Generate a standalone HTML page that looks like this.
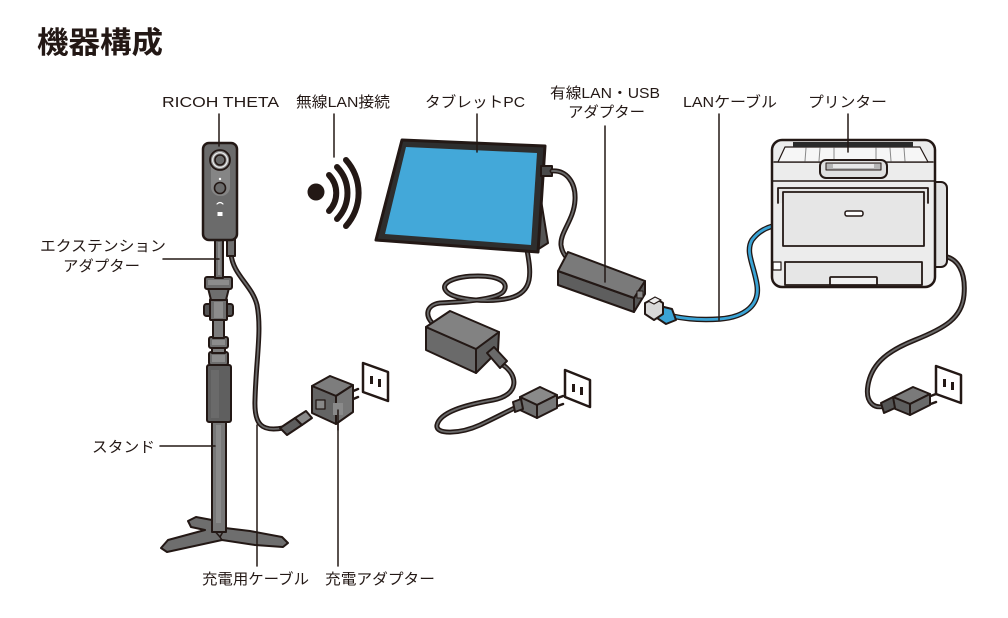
<!DOCTYPE html>
<html><head><meta charset="utf-8"><style>
html,body{margin:0;padding:0;background:#fff;}
svg{display:block;}
text{font-family:"Liberation Sans","Noto Sans CJK JP",sans-serif;fill:#231815;}
</style></head><body>
<svg width="1008" height="618" viewBox="0 0 1008 618" xmlns="http://www.w3.org/2000/svg">
<g stroke-linejoin="round" stroke-linecap="round">

<!-- Title -->
<text x="37" y="53" font-size="30" font-weight="bold" textLength="126" lengthAdjust="spacingAndGlyphs" style="font-family:'Noto Sans CJK JP',sans-serif">機器構成</text>

<!-- Labels -->
<g font-size="15">
<text x="162" y="107" textLength="117" lengthAdjust="spacingAndGlyphs">RICOH THETA</text>
<text x="296" y="107" textLength="94" lengthAdjust="spacingAndGlyphs">無線LAN接続</text>
<text x="425" y="107" textLength="100" lengthAdjust="spacingAndGlyphs">タブレットPC</text>
<text x="550" y="98" textLength="110" lengthAdjust="spacingAndGlyphs">有線LAN・USB</text>
<text x="568" y="117" textLength="77" lengthAdjust="spacingAndGlyphs">アダプター</text>
<text x="683" y="107" textLength="94" lengthAdjust="spacingAndGlyphs">LANケーブル</text>
<text x="808" y="107" textLength="79" lengthAdjust="spacingAndGlyphs">プリンター</text>
<text x="40" y="251" textLength="126" lengthAdjust="spacingAndGlyphs">エクステンション</text>
<text x="63" y="271" textLength="77" lengthAdjust="spacingAndGlyphs">アダプター</text>
<text x="92" y="452" textLength="63" lengthAdjust="spacingAndGlyphs">スタンド</text>
<text x="202" y="584" textLength="107" lengthAdjust="spacingAndGlyphs">充電用ケーブル</text>
<text x="325" y="584" textLength="110" lengthAdjust="spacingAndGlyphs">充電アダプター</text>
</g>

<!-- ===== Stand ===== -->
<g stroke="#231815" stroke-width="2" fill="#6e6e6e">
  <polygon points="212,520 196,517 188,521 191,527 205,530 168,540 161,548 167,552 222,540 255,545 283,547 288,543 282,537 250,531 225,528 225,520"/>
  <polyline points="212,528 220,537 225,528" fill="none" stroke-width="1.5"/>
  <line x1="220" y1="537" x2="222" y2="540" stroke-width="1.5"/>
  <rect x="212" y="420" width="14" height="112" fill="#777"/>
  <rect x="207" y="365" width="24" height="57" rx="2" fill="#5f5f5f"/>
  <rect x="209" y="352" width="19" height="13" rx="2"/>
  <rect x="212" y="347" width="13" height="6" fill="#7c7c7c"/>
  <rect x="209" y="337" width="19" height="11" rx="2"/>
  <rect x="213" y="319" width="11" height="19" fill="#7c7c7c"/>
  <rect x="204" y="304" width="7" height="12" rx="2.5" fill="#555"/>
  <rect x="226" y="304" width="7" height="12" rx="2.5" fill="#555"/>
  <rect x="210" y="299" width="17" height="21" rx="1"/>
  <polygon points="208,288 229,288 226,300 211,300"/>
  <rect x="205" y="277" width="27" height="12" rx="2"/>
  <rect x="215" y="238" width="8" height="40"/>
</g>
<g fill="#8c8c8c">
  <rect x="208" y="280" width="21" height="5"/>
  <rect x="214" y="302" width="9" height="16"/>
  <rect x="212" y="340" width="13" height="5"/>
  <rect x="212" y="355" width="13" height="7"/>
  <rect x="211" y="370" width="8" height="48" fill="#6a6a6a"/>
  <rect x="216" y="425" width="5" height="98" fill="#8a8a8a"/>
  <rect x="218" y="242" width="2.5" height="33"/>
</g>

<!-- camera cable -->
<path d="M231 254 C233 275 252 285 257 305 C262 330 256 360 255 400 C254 425 262 432 283 428" fill="none" stroke="#231815" stroke-width="5"/>
<path d="M231 254 C233 275 252 285 257 305 C262 330 256 360 255 400 C254 425 262 432 283 428" fill="none" stroke="#6a6a6a" stroke-width="1.8"/>
<g stroke="#231815" stroke-width="2">
  <polygon points="280,428 295,418 302,425 287,435" fill="#5e5e5e"/>
  <polygon points="295,418 306,411 312,418 302,425" fill="#8a8a8a"/>
</g>
<rect x="227" y="238" width="8" height="18" fill="#6e6e6e" stroke="#231815" stroke-width="2"/>

<!-- ===== Camera ===== -->
<rect x="203" y="143" width="34" height="97" rx="6" fill="#6b6b6b" stroke="#231815" stroke-width="2.5"/>
<rect x="211" y="150" width="19" height="46" rx="9" fill="#858585"/>
<circle cx="220" cy="160" r="10" fill="#8a8a8a" stroke="#231815" stroke-width="1.8"/>
<circle cx="220" cy="160" r="7.3" fill="none" stroke="#eee" stroke-width="1.2"/>
<circle cx="220" cy="160" r="5" fill="#6a6a6a" stroke="#231815" stroke-width="1.5"/>
<circle cx="220" cy="179" r="1.2" fill="#fff"/>
<circle cx="220" cy="188" r="5.5" fill="#6b6b6b" stroke="#231815" stroke-width="1.6"/>
<path d="M217 204 Q220 201 223 204" fill="none" stroke="#fff" stroke-width="1.2"/>
<rect x="217.5" y="212" width="5" height="4" fill="#fff"/>
<line x1="219" y1="114" x2="219" y2="146" stroke="#231815" stroke-width="1.5"/>

<!-- ===== Wireless ===== -->
<circle cx="316" cy="192" r="8.5" fill="#231815"/>
<g fill="none" stroke="#231815" stroke-width="6" stroke-linecap="round">
  <path d="M329 175 A26 26 0 0 1 329 211"/>
  <path d="M337 167 A37.5 37.5 0 0 1 337 219"/>
  <path d="M346 160 A49.5 49.5 0 0 1 346 226"/>
</g>
<line x1="334" y1="114" x2="334" y2="157" stroke="#231815" stroke-width="1.5"/>

<!-- leaders left -->
<g stroke="#231815" stroke-width="1.5">
<line x1="163" y1="259" x2="219" y2="259"/>
<line x1="160" y1="446" x2="215" y2="446"/>
<line x1="257" y1="425" x2="257" y2="566"/>
<line x1="338" y1="410" x2="338" y2="566"/>
</g>

<!-- ===== Charger cube ===== -->
<g stroke="#231815" stroke-width="2">
  <line x1="351" y1="392" x2="358" y2="389" stroke-width="2.5"/>
  <line x1="351" y1="400" x2="358" y2="397" stroke-width="2.5"/>
  <polygon points="312,386 330,376 353,385 336,396" fill="#7d7d7d"/>
  <polygon points="312,386 336,396 336,424 312,413" fill="#646464"/>
  <polygon points="336,396 353,385 353,412 336,424" fill="#777"/>
  <rect x="316" y="400" width="9" height="9" fill="#888" stroke-width="1.3"/>
</g>
<rect x="333" y="403" width="10" height="12" fill="#8a8a8a"/>
<line x1="338" y1="410" x2="338" y2="430" stroke="#231815" stroke-width="1.5"/>
<g stroke="#231815">
  <polygon points="363,363 388,372 388,401 363,392" fill="#fff" stroke-width="2.5"/>
  <rect x="370" y="376" width="3" height="8" fill="#231815" stroke="none"/>
  <rect x="378" y="379" width="3" height="8" fill="#231815" stroke="none"/>
</g>

<!-- ===== Tablet ===== -->
<polygon points="532,205 541,200 548,243 537,250 529,250" fill="#555" stroke="#231815" stroke-width="2"/>
<path d="M527 250 C531 272 534 292 510 298 C490 303 455 300 447 292 C438 283 455 276 478 276 C500 276 510 283 503 292 C495 300 460 302 440 303 C425 305 424 318 436 326" fill="none" stroke="#231815" stroke-width="5"/>
<path d="M527 250 C531 272 534 292 510 298 C490 303 455 300 447 292 C438 283 455 276 478 276 C500 276 510 283 503 292 C495 300 460 302 440 303 C425 305 424 318 436 326" fill="none" stroke="#6a6a6a" stroke-width="1.8"/>
<polygon points="402,140 545,146 538,252 376,240" fill="#2e2e2e" stroke="#231815" stroke-width="3"/>
<polygon points="406,147 537,153 531,245 385,234" fill="#43a8d9"/>
<line x1="477" y1="114" x2="477" y2="152" stroke="#231815" stroke-width="1.5"/>
<rect x="541" y="166" width="11" height="10" fill="#4a4a4a" stroke="#231815" stroke-width="2"/>
<path d="M552 171 C566 170 576 182 575 200 C574 220 560 232 561 245 C562 253 566 258 572 262" fill="none" stroke="#231815" stroke-width="5"/>
<path d="M552 171 C566 170 576 182 575 200 C574 220 560 232 561 245 C562 253 566 258 572 262" fill="none" stroke="#6a6a6a" stroke-width="1.8"/>

<!-- ===== LAN/USB Adapter ===== -->
<g stroke="#231815" stroke-width="2">
  <polygon points="558,271 634,298 634,312 558,285" fill="#5e5e5e"/>
  <polygon points="634,298 645,281 645,294 634,312" fill="#555"/>
  <polygon points="568,252 645,281 634,298 558,271" fill="#7a7a7a"/>
  <rect x="637" y="291" width="6" height="7" fill="#888" stroke-width="1"/>
</g>
<line x1="605" y1="126" x2="605" y2="282" stroke="#231815" stroke-width="1.5"/>

<!-- ===== LAN cable ===== -->
<path d="M672 316 C690 320 705 320 720 319 C745 317 760 305 757 285 C754 265 745 252 752 240 C758 232 765 228 773 226" fill="none" stroke="#231815" stroke-width="5.5"/>
<path d="M672 316 C690 320 705 320 720 319 C745 317 760 305 757 285 C754 265 745 252 752 240 C758 232 765 228 773 226" fill="none" stroke="#3aa4d6" stroke-width="2.8"/>
<line x1="719" y1="114" x2="719" y2="320" stroke="#231815" stroke-width="1.5"/>
<g stroke="#231815" stroke-width="2">
  <polygon points="660,306 672,309 676,320 666,324 657,318" fill="#3aa4d6"/>
  <polygon points="645,303 655,298 663,303 663,314 654,320 645,314" fill="#d8d8d8"/>
  <polygon points="648,301 655,297 661,300 654,304" fill="#eee" stroke-width="1.2"/>
</g>

<!-- ===== Tablet power brick ===== -->
<g stroke="#231815" stroke-width="2">
  <polygon points="426,327 476,349 476,373 426,350" fill="#6a6a6a"/>
  <polygon points="476,349 499,332 498,351 476,373" fill="#5c5c5c"/>
  <polygon points="426,327 450,311 499,332 476,349" fill="#828282"/>
</g>
<path d="M503 365 C518 375 520 395 493 400 C465 405 440 412 437 425 C435 435 460 434 480 425 C495 418 510 410 523 404" fill="none" stroke="#231815" stroke-width="5"/>
<path d="M503 365 C518 375 520 395 493 400 C465 405 440 412 437 425 C435 435 460 434 480 425 C495 418 510 410 523 404" fill="none" stroke="#6a6a6a" stroke-width="1.8"/>
<polygon points="487,353 494,347 507,361 500,368" fill="#6a6a6a" stroke="#231815" stroke-width="2"/>
<g stroke="#231815" stroke-width="2">
  <line x1="555" y1="399" x2="563" y2="396" stroke-width="2.5"/>
  <line x1="555" y1="407" x2="563" y2="404" stroke-width="2.5"/>
  <polygon points="520,397 540,387 557,395 537,405" fill="#8a8a8a"/>
  <polygon points="520,397 537,405 537,418 520,410" fill="#6e6e6e"/>
  <polygon points="537,405 557,395 557,408 537,418" fill="#777"/>
  <polygon points="513,402 521,399 523,409 515,412" fill="#6a6a6a"/>
</g>
<g stroke="#231815">
  <polygon points="565,370 590,380 590,407 565,397" fill="#fff" stroke-width="2.5"/>
  <rect x="572" y="384" width="3" height="8" fill="#231815" stroke="none"/>
  <rect x="580" y="387" width="3" height="8" fill="#231815" stroke="none"/>
</g>

<!-- ===== Printer ===== -->
<path d="M943 256 C958 258 966 272 964 295 C962 318 945 328 915 340 C890 350 872 362 868 385 C865 402 874 412 890 404" fill="none" stroke="#231815" stroke-width="5"/>
<path d="M943 256 C958 258 966 272 964 295 C962 318 945 328 915 340 C890 350 872 362 868 385 C865 402 874 412 890 404" fill="none" stroke="#6a6a6a" stroke-width="1.8"/>
<rect x="929" y="182" width="18" height="85" rx="6" fill="#e2e2e2" stroke="#231815" stroke-width="2"/>
<rect x="772" y="140" width="163" height="147" rx="10" fill="#ececec" stroke="#231815" stroke-width="2.5"/>
<path d="M774 162 L933 162" stroke="#231815" stroke-width="1.5"/>
<path d="M785 147 L920 147 L928 162 L778 162 Z" fill="#f6f6f6" stroke="#231815" stroke-width="1.2"/>
<rect x="793" y="142" width="120" height="5" fill="#2a2a2a"/>
<g stroke="#888" stroke-width="1">
<line x1="806" y1="148" x2="805" y2="161"/><line x1="820" y1="148" x2="819" y2="161"/>
<line x1="834" y1="148" x2="834" y2="161"/><line x1="876" y1="148" x2="876" y2="161"/>
<line x1="890" y1="148" x2="891" y2="161"/><line x1="904" y1="148" x2="905" y2="161"/>
</g>
<line x1="773" y1="181" x2="934" y2="181" stroke="#231815" stroke-width="1.5"/>
<rect x="820" y="160" width="67" height="18" rx="6" fill="#e0e0e0" stroke="#231815" stroke-width="2"/>
<rect x="826" y="163" width="55" height="7" fill="#b5b5b5" stroke="#231815" stroke-width="1"/>
<rect x="833" y="164" width="41" height="4" fill="#e8e8e8"/>
<line x1="848" y1="114" x2="848" y2="152" stroke="#231815" stroke-width="1.5"/>
<path d="M778 203 L778 188 L928 188 L928 203" fill="#e6e6e6" stroke="#231815" stroke-width="1.8"/>
<rect x="783" y="192" width="141" height="54" fill="#e6e6e6" stroke="#231815" stroke-width="1.8"/>
<rect x="845" y="211" width="18" height="5" rx="2" fill="#fff" stroke="#231815" stroke-width="1.5"/>
<rect x="785" y="262" width="137" height="23" fill="#e6e6e6" stroke="#231815" stroke-width="1.8"/>
<rect x="830" y="277" width="47" height="8" rx="1" fill="#f0f0f0" stroke="#231815" stroke-width="1.8"/>
<rect x="773" y="262" width="8" height="8" fill="#fff" stroke="#231815" stroke-width="1.2"/>
<g stroke="#231815" stroke-width="2">
  <line x1="928" y1="397" x2="936" y2="394" stroke-width="2.5"/>
  <line x1="928" y1="405" x2="936" y2="402" stroke-width="2.5"/>
  <polygon points="893,397 913,387 930,394 910,404" fill="#7a7a7a"/>
  <polygon points="893,397 910,404 910,415 893,408" fill="#5e5e5e"/>
  <polygon points="910,404 930,394 930,405 910,415" fill="#6a6a6a"/>
  <polygon points="881,403 893,397 895,408 884,413" fill="#555"/>
</g>
<g stroke="#231815">
  <polygon points="936,366 961,375 961,403 936,394" fill="#fff" stroke-width="2.5"/>
  <rect x="943" y="379" width="3" height="8" fill="#231815" stroke="none"/>
  <rect x="951" y="382" width="3" height="8" fill="#231815" stroke="none"/>
</g>

</g>
</svg>
</body></html>
